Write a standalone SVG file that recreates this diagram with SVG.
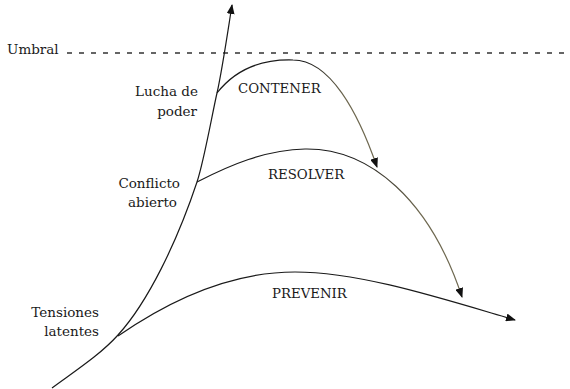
<svg xmlns="http://www.w3.org/2000/svg" width="570" height="389" viewBox="0 0 570 389">
<style>
.t{font-family:"DejaVu Serif","Liberation Serif",serif;font-size:13.5px;fill:#1a1a1a}
.c{font-family:"DejaVu Serif","Liberation Serif",serif;font-size:13.3px;fill:#1a1a1a}
.ln{fill:none;stroke:#1a1a1a;stroke-width:1.2}
.dash{fill:none;stroke:#333;stroke-width:1.3;stroke-dasharray:5 7}
</style>
<defs>
<marker id="ah" viewBox="0 0 10 8" refX="9" refY="4" markerWidth="10" markerHeight="8" markerUnits="userSpaceOnUse" orient="auto">
<path d="M0,0 L10,4 L0,8 z" fill="#111"/>
</marker>
<linearGradient id="gC" gradientUnits="userSpaceOnUse" x1="305" y1="0" x2="345" y2="0">
<stop offset="0" stop-color="#1a1a1a"/><stop offset="1" stop-color="#6e6850"/>
</linearGradient>
<linearGradient id="gR" gradientUnits="userSpaceOnUse" x1="350" y1="0" x2="420" y2="0">
<stop offset="0" stop-color="#1a1a1a"/><stop offset="1" stop-color="#6e6850"/>
</linearGradient>
</defs>
<rect width="570" height="389" fill="#fff"/>
<g id="umbral">
<line class="dash" x1="67" y1="53" x2="570" y2="53"/>
<text class="t" x="7" y="54">Umbral</text>
</g>
<g id="connectors">
<path id="escalada" class="ln" marker-end="url(#ah)" d="M52,388 C75,371 100,355 118,335 C148,302 177,242 197,182 C204,161 212,115 217,93 C222,71 228,30 232,5"/>
<path id="contener-curve" class="ln" style="stroke:url(#gC)" marker-end="url(#ah)" d="M217,93 C235,70 260,59 293,60 C330,60 358,112 377,167"/>
<path id="resolver-curve" class="ln" style="stroke:url(#gR)" marker-end="url(#ah)" d="M197,182 C230,165 265,150 305,149 C370,148 430,200 462,297"/>
<path id="prevenir-curve" class="ln" marker-end="url(#ah)" d="M118,336 C170,300 230,272 295,272 C360,272 440,298 515,320"/>
</g>
<g id="lucha">
<text class="t" text-anchor="end" x="198" y="96">Lucha de</text>
<text class="t" text-anchor="end" x="197" y="116">poder</text>
</g>
<g id="conflicto">
<text class="t" text-anchor="end" x="180" y="188">Conflicto</text>
<text class="t" text-anchor="end" x="177" y="207">abierto</text>
</g>
<g id="tensiones">
<text class="t" text-anchor="end" x="99" y="317">Tensiones</text>
<text class="t" text-anchor="end" x="99" y="336">latentes</text>
</g>
<g id="contener"><text class="c" x="238" y="93">CONTENER</text></g>
<g id="resolver"><text class="c" x="268" y="179">RESOLVER</text></g>
<g id="prevenir"><text class="c" x="272" y="298">PREVENIR</text></g>
</svg>
